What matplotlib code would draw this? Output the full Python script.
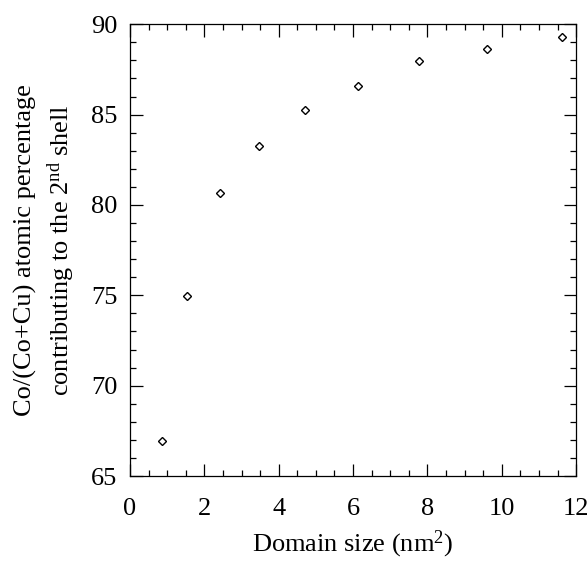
import matplotlib
matplotlib.use("Agg")
import matplotlib.pyplot as plt
from matplotlib.ticker import MultipleLocator

plt.rcParams["font.family"] = ["Liberation Serif", "DejaVu Serif"]
plt.rcParams["mathtext.fontset"] = "custom"
plt.rcParams["mathtext.rm"] = "Liberation Serif"
plt.rcParams["mathtext.it"] = "Liberation Serif:italic"

# domain size (nm^2) vs Co share of the 2nd shell (%)
domain_size = [0.87, 1.54, 2.42, 3.47, 4.72, 6.13, 7.78, 9.61, 11.63]
co_percent = [66.95, 74.95, 80.65, 83.25, 85.25, 86.6, 87.95, 88.65, 89.3]

fig = plt.figure(figsize=(5.88, 5.64), dpi=100)
ax = fig.add_axes([0.221, 0.156, 0.759, 0.801])

ax.plot(domain_size, co_percent, ls="none", marker="D", ms=4.2, mfc="white",
        mec="black", mew=1.0)

ax.set_xlim(0, 12)
ax.set_ylim(65, 90)
ax.xaxis.set_major_locator(MultipleLocator(2))
ax.xaxis.set_minor_locator(MultipleLocator(0.5))
ax.yaxis.set_major_locator(MultipleLocator(5))
ax.yaxis.set_minor_locator(MultipleLocator(1))
ax.tick_params(which="both", direction="in", top=True, right=True, labelsize=19, width=0.9)
ax.tick_params(which="major", length=9)
ax.tick_params(axis="x", which="major", pad=16)
ax.tick_params(axis="y", which="major", pad=9)
ax.tick_params(which="minor", length=4.5)
for s in ax.spines.values():
    s.set_linewidth(0.9)

ax.set_xlabel("Domain size (nm$^{2}$)", fontsize=19, labelpad=6)
ax.set_ylabel("Co/(Co+Cu) atomic percentage\ncontributing to the 2$^{\\mathrm{nd}}$ shell",
              fontsize=19, labelpad=10, linespacing=1.35)

fig.savefig("out.png", dpi=100, facecolor="white")
